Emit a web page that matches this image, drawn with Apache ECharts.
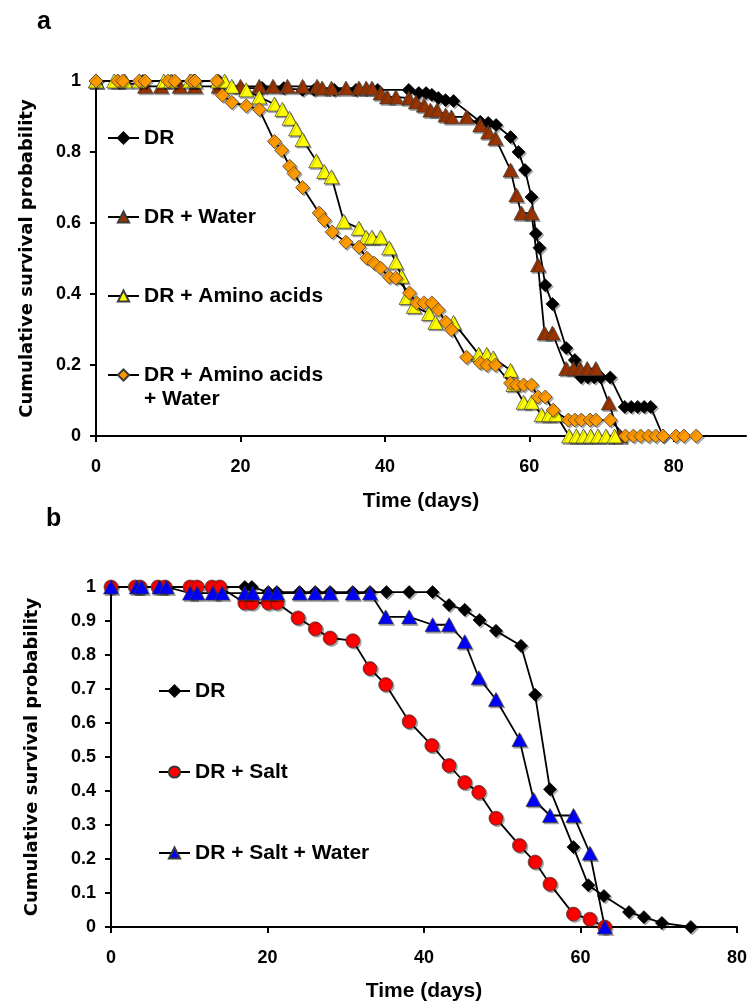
<!DOCTYPE html>
<html>
<head>
<meta charset="utf-8">
<script src="https://cdn.jsdelivr.net/npm/echarts@6/dist/echarts.min.js"></script>
<style>
  html, body { margin: 0; background: #fff; }
  #chart { width: 750px; height: 1003px; }
</style>
</head>
<body>
<div id="chart"></div>
<script>
// Panel a - days and survival for each group
var drDaysA = [0, 3, 6.5, 10.5, 13.5, 17, 20, 23, 26, 28.6, 30.2, 33, 36, 39, 43.3, 44.7, 45.7, 46.5, 47.4, 48.4, 49.5, 53.2, 54.3, 55.4, 57.4, 58.5, 59.4, 60.3, 60.9, 61.4, 62.2, 63.2, 65.1, 66.3, 67.2, 68.1, 69, 69.9, 71.2, 73.2, 74.1, 75, 75.9, 76.8, 78.5];
var drSurvA = [1, 1, 1, 1, 1, 1, 0.98, 0.98, 0.98, 0.975, 0.975, 0.975, 0.975, 0.975, 0.975, 0.966, 0.966, 0.961, 0.952, 0.946, 0.944, 0.885, 0.882, 0.876, 0.842, 0.80, 0.749, 0.673, 0.57, 0.53, 0.425, 0.372, 0.248, 0.214, 0.165, 0.165, 0.165, 0.165, 0.165, 0.082, 0.082, 0.082, 0.082, 0.082, 0];

var waterDaysA = [0, 3, 6.8, 9, 11.6, 13.7, 17, 20, 22.6, 24.5, 26.5, 28.6, 30.6, 31.3, 32.6, 34.6, 36.4, 37.4, 38.2, 39.4, 40.3, 41.5, 43.3, 44.3, 45.4, 46.3, 47.2, 48.4, 49.2, 51.3, 53.2, 54.3, 55.3, 57.4, 58.2, 58.9, 60.3, 61.2, 62.1, 63.2, 65.1, 66.1, 67, 68, 69.2, 71, 72.5];
var waterSurvA = [1, 1, 0.985, 0.985, 0.985, 0.985, 0.985, 0.985, 0.985, 0.985, 0.985, 0.985, 0.985, 0.98, 0.98, 0.98, 0.98, 0.98, 0.98, 0.966, 0.955, 0.955, 0.952, 0.941, 0.932, 0.918, 0.918, 0.904, 0.899, 0.899, 0.876, 0.856, 0.839, 0.749, 0.679, 0.628, 0.628, 0.482, 0.29, 0.29, 0.19, 0.19, 0.19, 0.19, 0.19, 0.093, 0];

var aaDaysA = [0, 2.5, 4, 6, 9.4, 10.4, 13, 13.7, 16.9, 17.8, 18.8, 20.8, 22.6, 24.7, 25.8, 26.8, 27.7, 28.6, 30.5, 31.6, 32.6, 34.3, 36.4, 37.4, 38.2, 39.4, 40.6, 41.5, 42.3, 43, 44, 46.1, 47, 49.5, 53, 54.1, 55, 57.4, 57.8, 59.2, 60.3, 61.7, 62.7, 63.7, 65.5, 66.5, 67.5, 68.5, 69.5, 70.6, 71.8];
var aaSurvA = [1, 1, 1, 1, 1, 1, 1, 1, 1, 1, 0.985, 0.975, 0.955, 0.935, 0.92, 0.895, 0.865, 0.835, 0.775, 0.745, 0.73, 0.605, 0.585, 0.56, 0.56, 0.56, 0.53, 0.49, 0.45, 0.39, 0.365, 0.345, 0.32, 0.32, 0.23, 0.23, 0.22, 0.185, 0.145, 0.095, 0.095, 0.06, 0.06, 0.06, 0, 0, 0, 0, 0, 0, 0];

var aaWaterDaysA = [0, 3, 3.7, 6, 6.8, 10, 10.9, 13.2, 13.7, 16.7, 17.5, 18.8, 20.8, 22.6, 24.7, 25.7, 26.8, 27.4, 28.6, 30.9, 31.6, 32.7, 34.6, 36.4, 37.5, 38.5, 39.4, 40.6, 41.5, 43.4, 44.4, 45.4, 46.5, 47.4, 48.4, 49.2, 51.3, 53.2, 54.1, 55.3, 57.4, 58.2, 59.2, 60.3, 61.2, 62.2, 63.3, 65.4, 66.3, 67.2, 68.4, 69.2, 71.2, 73.3, 74.4, 75.4, 76.5, 77.5, 78.5, 80.3, 81.4, 83.1];
var aaWaterSurvA = [1, 1, 1, 1, 1, 1, 1, 1, 1, 1, 0.96, 0.94, 0.93, 0.92, 0.83, 0.805, 0.76, 0.74, 0.70, 0.628, 0.608, 0.575, 0.546, 0.532, 0.501, 0.487, 0.473, 0.448, 0.445, 0.403, 0.375, 0.375, 0.375, 0.355, 0.321, 0.299, 0.222, 0.206, 0.2, 0.2, 0.149, 0.144, 0.144, 0.144, 0.11, 0.11, 0.073, 0.045, 0.045, 0.045, 0.045, 0.045, 0.045, 0, 0, 0, 0, 0, 0, 0, 0, 0];

// Panel b
var drDaysB = [0, 3.5, 7, 10.5, 14, 17.1, 18, 20.1, 21.2, 24.1, 26.1, 28, 30.9, 33.1, 35.2, 38.1, 41.1, 43.2, 45.2, 47.1, 49.2, 52.4, 54.2, 56.1, 59.1, 61, 63, 66.2, 68.1, 70.4, 74.1];
var drSurvB = [1, 1, 1, 1, 1, 1, 1, 0.985, 0.985, 0.985, 0.985, 0.985, 0.985, 0.985, 0.985, 0.985, 0.985, 0.947, 0.933, 0.903, 0.871, 0.827, 0.683, 0.405, 0.235, 0.123, 0.091, 0.044, 0.029, 0.012, 0];

var saltDaysB = [0, 3.1, 3.7, 6, 6.9, 10.1, 11, 12.9, 13.9, 17.1, 18, 20.1, 21.2, 23.9, 26.1, 28, 30.9, 33.1, 35.1, 38.1, 41, 43.2, 45.2, 47, 49.2, 52.2, 54.2, 56.1, 59.1, 61.2, 63.1];
var saltSurvB = [1, 1, 1, 1, 1, 1, 1, 1, 1, 0.953, 0.953, 0.953, 0.953, 0.909, 0.877, 0.85, 0.842, 0.76, 0.713, 0.604, 0.534, 0.475, 0.425, 0.396, 0.32, 0.24, 0.191, 0.126, 0.038, 0.023, 0];

var saltWaterDaysB = [0, 3.3, 3.9, 6.2, 7.1, 10.1, 11, 13, 14.2, 17.1, 18.1, 20.1, 21.2, 24.1, 26.1, 28, 30.9, 33.1, 35.1, 38.1, 41.1, 43.2, 45.2, 47, 49.2, 52.2, 54, 56.1, 59.1, 61.2, 63.1];
var saltWaterSurvB = [1, 1, 1, 1, 1, 0.982, 0.982, 0.982, 0.982, 0.982, 0.982, 0.982, 0.982, 0.982, 0.982, 0.982, 0.982, 0.982, 0.912, 0.912, 0.889, 0.889, 0.839, 0.733, 0.669, 0.551, 0.375, 0.328, 0.328, 0.217, 0];

var xTicksA = [0, 20, 40, 60, 80];
var xTicksB = [0, 20, 40, 60, 80];

function pairs(xs, ys) {
  return xs.map(function (x, i) { return [x, ys[i]]; });
}

var FONT = 'Liberation Sans, Arial, sans-serif';
var WIDE = '"DejaVu Sans", "Liberation Sans", sans-serif';

function makeSeries(name, idx, xs, ys, symbol, size, color) {
  return {
    name: name,
    type: 'line',
    xAxisIndex: idx,
    yAxisIndex: idx,
    data: pairs(xs, ys),
    symbol: symbol,
    symbolSize: size,
    showAllSymbol: true,
    lineStyle: { color: '#000', width: 1.8 },
    itemStyle: {
      color: color,
      borderColor: color === '#000000' ? '#000000' : '#3a3a3a',
      borderWidth: 0.7,
      shadowColor: 'rgba(0,0,0,0.3)',
      shadowOffsetX: 1.5,
      shadowOffsetY: 1.5
    },
    emphasis: { disabled: true },
    animation: false
  };
}

function xAxis(idx, max, ticks) {
  return {
    type: 'value',
    gridIndex: idx,
    min: 0,
    max: max,
    name: 'Time (days)',
    nameLocation: 'middle',
    nameGap: idx === 0 ? 55 : 54,
    nameTextStyle: { fontFamily: FONT, fontWeight: 'bold', fontSize: 21, color: '#000' },
    axisLine: { onZero: false, lineStyle: { color: '#000', width: 2 } },
    axisTick: { customValues: ticks, length: 6, lineStyle: { color: '#000', width: 2 } },
    axisLabel: { customValues: ticks, margin: 22, fontFamily: FONT, fontWeight: 'bold', fontSize: 18, color: '#000' },
    splitLine: { show: false }
  };
}

function yAxis(idx, interval, gap) {
  return {
    type: 'value',
    gridIndex: idx,
    min: 0,
    max: 1,
    interval: interval,
    name: 'Cumulative survival probability',
    nameLocation: 'middle',
    nameGap: gap,
    nameTextStyle: { fontFamily: WIDE, fontWeight: 'bold', fontSize: 18, color: '#000' },
    axisLine: { show: true, lineStyle: { color: '#000', width: 2 } },
    axisTick: { show: true, length: 6, lineStyle: { color: '#000', width: 2 } },
    axisLabel: { margin: 15, fontFamily: FONT, fontWeight: 'bold', fontSize: 18, color: '#000' },
    splitLine: { show: false }
  };
}

var legendText = { fontFamily: FONT, fontWeight: 'bold', fontSize: 21, color: '#000', lineHeight: 24 };

function legendBox(names, left, top, gap) {
  return {
    data: names,
    orient: 'vertical',
    left: left,
    top: top,
    itemWidth: 31,
    itemHeight: 14,
    itemGap: gap,
    selectedMode: false,
    formatter: function (n) {
      if (n === 'DR + Amino acids + Water') return '\nDR + Amino acids\n+ Water';
      return n.trim();
    },
    textStyle: legendText
  };
}

var chart = echarts.init(document.getElementById('chart'));
var option = {
  backgroundColor: '#fff',
  animation: false,
  graphic: [
    { type: 'text', left: 37, top: 10, style: { text: 'a', font: 'bold 25px ' + FONT, fill: '#000' } },
    { type: 'text', left: 46, top: 507, style: { text: 'b', font: 'bold 25px ' + FONT, fill: '#000' } }
  ],
  grid: [
    { left: 96, top: 81, width: 650, height: 355 },
    { left: 111, top: 587, width: 626, height: 341 }
  ],
  xAxis: [xAxis(0, 90, xTicksA), xAxis(1, 80, xTicksB)],
  yAxis: [yAxis(0, 0.2, 60), yAxis(1, 0.1, 70)],
  legend: [
    legendBox(['DR', 'DR + Water', 'DR + Amino acids'], 102, 121, 55),
    legendBox(['DR + Amino acids + Water'], 102, 334, 0),
    legendBox(['DR ', 'DR + Salt', 'DR + Salt + Water'], 153, 674, 57)
  ],
  series: [
    makeSeries('DR', 0, drDaysA, drSurvA, 'diamond', 13, '#000000'),
    makeSeries('DR + Water', 0, waterDaysA, waterSurvA, 'triangle', [15, 14], '#993300'),
    makeSeries('DR + Amino acids', 0, aaDaysA, aaSurvA, 'triangle', [15, 14], '#FFFF00'),
    makeSeries('DR + Amino acids + Water', 0, aaWaterDaysA, aaWaterSurvA, 'diamond', 14, '#FF9900'),
    makeSeries('DR ', 1, drDaysB, drSurvB, 'diamond', 13, '#000000'),
    makeSeries('DR + Salt', 1, saltDaysB, saltSurvB, 'circle', 14, '#FF0000'),
    makeSeries('DR + Salt + Water', 1, saltWaterDaysB, saltWaterSurvB, 'triangle', [15, 14], '#0000FF')
  ]
};
chart.setOption(option);
</script>
</body>
</html>
